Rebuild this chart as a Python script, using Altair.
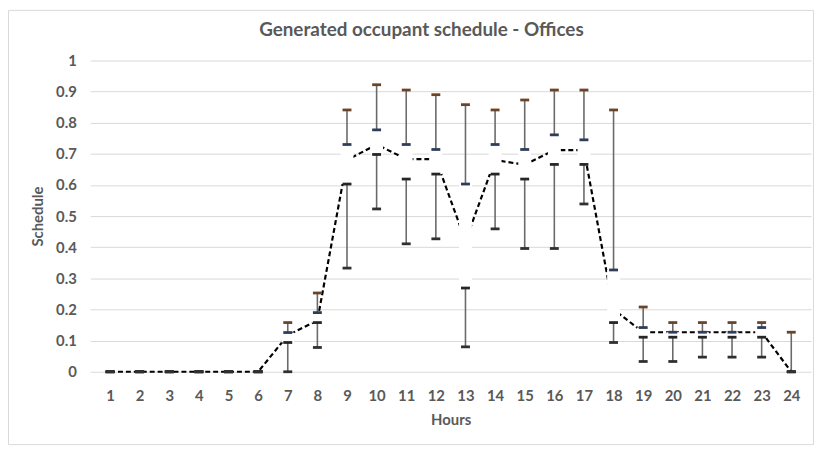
import altair as alt
import pandas as pd

hours = list(range(1, 25))
v_max = [0, 0, 0, 0, 0, 0, 0.158, 0.253, 0.841, 0.922, 0.905, 0.890, 0.858, 0.841,
         0.873, 0.905, 0.905, 0.841, 0.208, 0.158, 0.158, 0.158, 0.158, 0.127]
v_q3 = [0, 0, 0, 0, 0, 0, 0.126, 0.190, 0.730, 0.777, 0.730, 0.714, 0.603, 0.730,
        0.714, 0.761, 0.745, 0.327, 0.142, 0.127, 0.127, 0.127, 0.142, 0]
v_q1 = [0, 0, 0, 0, 0, 0, 0.094, 0.158, 0.603, 0.698, 0.619, 0.635, 0.269, 0.635,
        0.619, 0.666, 0.666, 0.158, 0.111, 0.111, 0.111, 0.111, 0.111, 0]
v_min = [0, 0, 0, 0, 0, 0, 0, 0.078, 0.333, 0.523, 0.411, 0.427, 0.080, 0.459,
         0.396, 0.396, 0.539, 0.094, 0.033, 0.033, 0.047, 0.047, 0.047, 0]
v_mean = [0, 0, 0, 0, 0, 0, 0.117, 0.165, 0.680, 0.730, 0.683, 0.683, 0.420, 0.680,
          0.665, 0.712, 0.712, 0.200, 0.127, 0.127, 0.127, 0.127, 0.127, 0]
y_ticks = [round(i * 0.1, 1) for i in range(11)]
title_text = ["Generated occupant schedule - Offices"]

df = pd.DataFrame({"hour": hours, "mx": v_max, "q3": v_q3, "q1": v_q1,
                   "mn": v_min, "mean": v_mean})

FONT = "Lato"
GREY_TXT = "#595959"

x_axis = alt.Axis(values=hours, ticks=False, domain=False, grid=False,
                  title="Hours", labelPadding=17, titlePadding=9,
                  labelFlush=False, labelOverlap=False, format="d")
y_axis = alt.Axis(values=y_ticks, ticks=False, domain=False, grid=True,
                  gridColor="#d9d9d9", gridWidth=1, format=".1~f",
                  labelOverlap=False,
                  title="Schedule", labelPadding=14, titlePadding=10)
xscale = alt.Scale(domain=[0.5, 24.5], nice=False, zero=False)
yscale = alt.Scale(domain=[0, 1], nice=False)


def X():
    return alt.X("hour:Q", scale=xscale, axis=x_axis)


def Y(col):
    return alt.Y(f"{col}:Q", scale=yscale, axis=y_axis)


base = alt.Chart(df)

frame = alt.Chart(pd.DataFrame({"k": [0]})).mark_rect(
    filled=False, stroke="#d9d9d9", strokeWidth=1
).encode(x=alt.value(-82.5), x2=alt.value(729.5),
         y=alt.value(-50.5), y2=alt.value(387.5))

title = alt.Chart(pd.DataFrame({"t": title_text})).mark_text(
    font=FONT, fontSize=19, fontWeight="bold", color=GREY_TXT,
    align="center", baseline="middle"
).encode(text="t:N", x=alt.value(334), y=alt.value(-31))

line = base.mark_line(color="black", strokeDash=[5, 3], strokeWidth=2.2).encode(
    x=X(), y=Y("mean"))

boxes = base.mark_bar(color="white", size=13).encode(
    x=X(), y=Y("q1"), y2="q3:Q")

wlow = base.mark_rule(color="#6a6a6a", strokeWidth=1.6).encode(
    x=X(), y=Y("mn"), y2="q1:Q")
whigh = base.mark_rule(color="#6a6a6a", strokeWidth=1.6).encode(
    x=X(), y=Y("q3"), y2="mx:Q")


def cap(col, color):
    return base.mark_tick(orient="horizontal", size=9, thickness=2.8,
                          color=color, opacity=1).encode(x=X(), y=Y(col))


chart = alt.layer(
    frame, title, line, boxes, wlow, whigh,
    cap("mx", "#6b4428"), cap("q3", "#2f3d5a"),
    cap("q1", "#262626"), cap("mn", "#303030"),
).properties(
    width=727, height=314,
    padding={"left": 83, "top": 51, "right": 4, "bottom": 76},
    autosize=alt.AutoSizeParams(type="none"),
    background="white",
).configure_view(stroke=None).configure_axis(
    labelFont=FONT, titleFont=FONT, labelFontSize=15, titleFontSize=15,
    labelFontWeight="bold", titleFontWeight="bold",
    labelColor=GREY_TXT, titleColor=GREY_TXT,
)

chart.save("out.html", embed_options={"renderer": "svg", "actions": False})
